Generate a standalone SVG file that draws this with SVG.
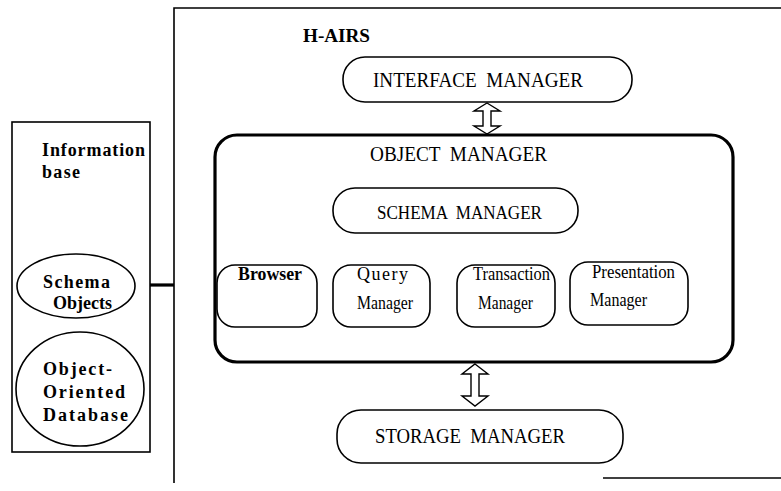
<svg xmlns="http://www.w3.org/2000/svg" width="781" height="491" viewBox="0 0 781 491">
<defs>
<style>
.ln{fill:none;stroke:#000;stroke-width:1.6}
.thick{fill:none;stroke:#000;stroke-width:3.2}
.box{fill:#fff;stroke:#000;stroke-width:1.6}
.arr{fill:#fff;stroke:#000;stroke-width:1.4;stroke-linejoin:miter}
text{font-family:"Liberation Serif","Times New Roman",serif;fill:#000}
.cap{font-size:21px;white-space:pre}
.b{font-weight:bold;font-size:18px}
.sm{font-size:18px;white-space:pre}
</style>
</defs>
<rect width="781" height="491" fill="#fff"/>
<g id="frame">
<path class="ln" d="M781,8 H174 V483"/>
<path class="ln" d="M603,478 H781"/>
<text class="b" x="303" y="42" textLength="67" lengthAdjust="spacingAndGlyphs">H-AIRS</text>
</g>
<g id="information-base">
<rect class="box" x="12" y="122" width="138" height="330"/>
<text class="b" x="42" y="156" textLength="103" lengthAdjust="spacing">Information</text>
<text class="b" x="42" y="178" textLength="38" lengthAdjust="spacing">base</text>
</g>
<g id="schema-objects">
<ellipse class="box" cx="76" cy="286" rx="59" ry="32"/>
<text class="b" x="43" y="288" textLength="67" lengthAdjust="spacing">Schema</text>
<text class="b" x="53" y="309" textLength="59" lengthAdjust="spacing">Objects</text>
</g>
<g id="oo-database">
<ellipse class="box" cx="80" cy="389" rx="64" ry="57"/>
<text class="b" x="43" y="375" textLength="69" lengthAdjust="spacing">Object-</text>
<text class="b" x="43" y="398" textLength="82" lengthAdjust="spacing">Oriented</text>
<text class="b" x="43" y="421" textLength="85" lengthAdjust="spacing">Database</text>
</g>
<g id="interface-manager">
<rect class="box" x="343" y="57" width="289" height="45" rx="22"/>
<text class="cap" x="373" y="87" textLength="210" lengthAdjust="spacingAndGlyphs">INTERFACE  MANAGER</text>
</g>
<g id="object-manager">
<rect class="thick" x="215" y="135" width="518" height="227" rx="22"/>
<text class="cap" x="370" y="161" textLength="177" lengthAdjust="spacingAndGlyphs">OBJECT  MANAGER</text>
</g>
<g id="schema-manager">
<rect class="box" x="333" y="188" width="245" height="45" rx="22"/>
<text class="sm" x="377" y="219" textLength="165" lengthAdjust="spacingAndGlyphs">SCHEMA  MANAGER</text>
</g>
<g id="browser">
<rect class="box" x="217" y="265" width="100" height="62" rx="18"/>
<text class="b" x="238" y="280" textLength="64" lengthAdjust="spacingAndGlyphs">Browser</text>
</g>
<g id="query-manager">
<rect class="box" x="333" y="265" width="97" height="62" rx="18"/>
<text class="sm" x="357" y="280" textLength="51" lengthAdjust="spacing">Query</text>
<text class="sm" x="357" y="309" textLength="56" lengthAdjust="spacingAndGlyphs">Manager</text>
</g>
<g id="transaction-manager">
<rect class="box" x="457" y="265" width="98" height="62" rx="18"/>
<text class="sm" x="473" y="280" textLength="77" lengthAdjust="spacingAndGlyphs">Transaction</text>
<text class="sm" x="478" y="309" textLength="55" lengthAdjust="spacingAndGlyphs">Manager</text>
</g>
<g id="presentation-manager">
<rect class="box" x="570" y="262" width="118" height="63" rx="18"/>
<text class="sm" x="592" y="278" textLength="83" lengthAdjust="spacingAndGlyphs">Presentation</text>
<text class="sm" x="590" y="306" textLength="57" lengthAdjust="spacingAndGlyphs">Manager</text>
</g>
<g id="storage-manager">
<rect class="box" x="337" y="410" width="286" height="53" rx="24"/>
<text class="cap" x="375" y="443" textLength="190" lengthAdjust="spacingAndGlyphs">STORAGE  MANAGER</text>
</g>
<g id="connectors">
<path class="thick" d="M150,285 H174"/>
<path class="arr" d="M487,103 L500,111 L491,111 L491,126 L500,126 L487,134 L474,126 L483,126 L483,111 L474,111 Z"/>
<path class="arr" d="M475,364 L488,374 L479,374 L479,396 L488,396 L475,406 L462,396 L471,396 L471,374 L462,374 Z"/>
</g>
</svg>
